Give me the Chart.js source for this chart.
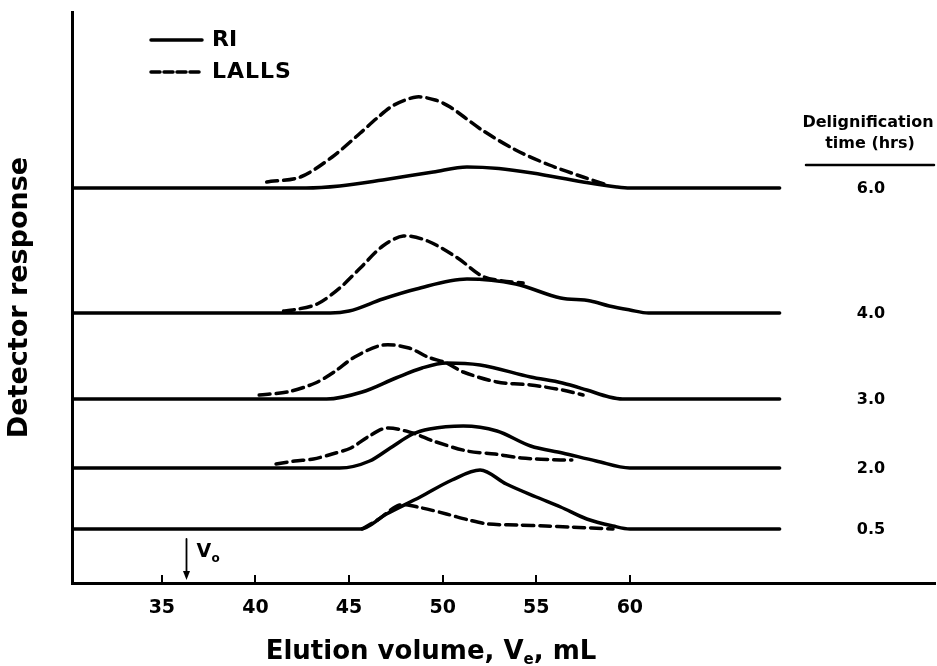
<!DOCTYPE html>
<html>
<head>
<meta charset="utf-8">
<script src="https://cdn.jsdelivr.net/npm/chart.js@4"></script>
<style>
  html, body { margin: 0; padding: 0; background: #fff; }
</style>
</head>
<body>
<canvas id="chart" width="937" height="666"></canvas>
<script>
// elution volume (mL) and height above each trace's own baseline
const times = ['6.0', '4.0', '3.0', '2.0', '0.5'];
const baseLevel = [395, 270, 184, 115, 54];
const tickValues = [35, 40, 45, 50, 55, 60];
const vo = 36.3;

const ri60 = [[30.2,0],[42.7,0],[44.5,2],[46.8,8],[49.5,16],[51.3,21],[53,19.5],[54.8,15],[57.5,6],[59.3,1],[60,0],[68,0]];
const lalls60 = [[40.6,6],[42.4,11],[44.1,31],[45.6,55],[46.5,70],[47.4,83],[48.6,91],[49.6,88],[50.4,81],[52.1,58],[53.9,38],[55.7,23],[57.5,11],[58.8,3]];

const ri40 = [[30.2,0],[44,0],[45,2],[46.8,14],[48.6,24],[51.3,34],[53.9,29],[56.3,15],[57.9,12],[58.9,7],[60,3],[61,0],[68,0]];
const lalls40 = [[41.5,2],[42,3],[43.3,9],[44.5,25],[45.6,45],[46.8,67],[47.9,77],[49.2,72],[50.8,55],[52.1,37],[53.2,32],[54.3,30]];

const ri30 = [[30.2,0],[43.8,0],[45.7,7],[47.5,21],[48.9,31],[50.2,36],[52,34],[54.7,22],[56.4,16],[57.7,9],[58.9,2],[59.6,0],[68,0]];
const lalls30 = [[40.2,4],[41.7,7],[43.2,16],[44.2,27],[45.3,42],[46.8,54],[48.2,51],[49.2,42],[50.2,36],[51.1,27],[52.9,17],[54.7,14],[56.4,9],[57.5,4]];

const ri20 = [[30.2,0],[44.5,0],[46.1,7],[47.2,20],[48.4,34],[49.3,39],[51.1,42],[52.9,37],[54.7,22],[56.4,15],[58.2,7],[60,0],[68,0]];
const lalls20 = [[41.1,4],[42.1,7],[43.1,9],[44.1,14],[45.1,20],[46,31],[47,40],[48.4,35],[49.5,27],[51.3,17],[52.8,14],[54.2,10],[56.3,8],[56.9,8]];

const ri05 = [[30.2,0],[45.6,0],[47,15],[48.8,32],[50.5,49],[52,59],[53.4,45],[55,32],[56.3,22],[57.7,10],[59.1,3],[60,0],[68,0]];
const lalls05 = [[45.7,0],[46.6,10],[47.7,24],[48.9,21],[50.2,15],[51.4,9],[52.4,5],[54,4],[55.5,3],[56.8,2],[59.1,0]];

const riSets = [ri60, ri40, ri30, ri20, ri05];
const lallsSets = [lalls60, lalls40, lalls30, lalls20, lalls05];

const FONT = 'DejaVu Sans';

function toPoints(pairs, base) {
  return pairs.map(p => ({ x: p[0], y: base + p[1] }));
}

const datasets = [];
times.forEach((t, i) => {
  datasets.push({
    label: 'LALLS ' + t,
    data: toPoints(lallsSets[i], baseLevel[i]),
    borderColor: '#000',
    borderWidth: 3.5,
    borderDash: [11, 6],
    borderCapStyle: 'round',
    pointRadius: 0,
    tension: 0.3,
    fill: false
  });
  datasets.push({
    label: 'RI ' + t,
    data: toPoints(riSets[i], baseLevel[i]),
    borderColor: '#000',
    borderWidth: 3.5,
    borderCapStyle: 'round',
    borderJoinStyle: 'round',
    pointRadius: 0,
    cubicInterpolationMode: 'monotone',
    fill: false
  });
});

const annot = {
  id: 'annot',
  afterDraw(chart) {
    const { ctx, scales: { x, y } } = chart;
    ctx.save();
    ctx.fillStyle = '#000';
    ctx.strokeStyle = '#000';
    ctx.lineCap = 'round';

    // legend
    ctx.lineWidth = 3.5;
    ctx.beginPath(); ctx.moveTo(151, 40); ctx.lineTo(202, 40); ctx.stroke();
    ctx.setLineDash([9, 4]);
    ctx.beginPath(); ctx.moveTo(151, 72); ctx.lineTo(202, 72); ctx.stroke();
    ctx.setLineDash([]);
    ctx.font = 'bold 22px ' + FONT;
    ctx.textBaseline = 'middle';
    ctx.textAlign = 'left';
    ctx.fillText('RI', 212, 40);
    ctx.letterSpacing = '1px';
    ctx.fillText('LALLS', 212, 72);
    ctx.letterSpacing = '0px';

    // right hand labels
    ctx.textAlign = 'center';
    ctx.font = 'bold 16px ' + FONT;
    ctx.fillText('Delignification', 868, 123);
    ctx.fillText('time (hrs)', 870, 144);
    ctx.lineWidth = 2.5;
    ctx.beginPath(); ctx.moveTo(806, 165); ctx.lineTo(934, 165); ctx.stroke();
    times.forEach((t, i) => {
      ctx.fillText(t, 871, y.getPixelForValue(baseLevel[i]) + 1);
    });

    // V0 arrow
    const px = Math.round(x.getPixelForValue(vo)) + 0.5;
    const bottom = y.getPixelForValue(0);
    ctx.lineWidth = 1.8;
    ctx.beginPath(); ctx.moveTo(px, bottom - 44); ctx.lineTo(px, bottom - 8); ctx.stroke();
    ctx.beginPath();
    ctx.moveTo(px - 3.5, bottom - 12);
    ctx.lineTo(px + 3.5, bottom - 12);
    ctx.lineTo(px, bottom - 3);
    ctx.closePath(); ctx.fill();
    ctx.textAlign = 'left';
    ctx.textBaseline = 'alphabetic';
    ctx.font = 'bold 19px ' + FONT;
    ctx.fillText('V', px + 10, bottom - 26);
    ctx.font = 'bold 12px ' + FONT;
    ctx.fillText('o', px + 25, bottom - 21);

    // x title with subscript
    const a = 'Elution volume, V';
    const c = ', mL';
    ctx.font = 'bold 26px ' + FONT;
    const wa = ctx.measureText(a).width;
    const wc = ctx.measureText(c).width;
    ctx.font = 'bold 15px ' + FONT;
    const wb = ctx.measureText('e').width;
    let tx = 431 - (wa + wb + wc) / 2;
    ctx.font = 'bold 26px ' + FONT;
    ctx.fillText(a, tx, 659);
    tx += wa;
    ctx.font = 'bold 15px ' + FONT;
    ctx.fillText('e', tx, 664);
    tx += wb;
    ctx.font = 'bold 26px ' + FONT;
    ctx.fillText(c, tx, 659);
    ctx.restore();
  }
};

new Chart(document.getElementById('chart').getContext('2d'), {
  type: 'line',
  data: { datasets: datasets },
  options: {
    responsive: false,
    animation: false,
    layout: { padding: { top: 12, right: 2, left: 0, bottom: 0 } },
    plugins: { legend: { display: false }, tooltip: { enabled: false } },
    scales: {
      x: {
        type: 'linear',
        min: 30.2,
        max: 76.3,
        afterBuildTicks: (scale) => { scale.ticks = tickValues.map(v => ({ value: v })); },
        afterFit: (scale) => { scale.height = 83; },
        grid: { drawOnChartArea: false, drawTicks: true, tickLength: -8, color: '#000', lineWidth: 2 },
        border: { display: true, color: '#000', width: 3 },
        ticks: {
          color: '#000',
          padding: 22,
          maxRotation: 0,
          font: { family: FONT, size: 19, weight: 'bold' }
        }
      },
      y: {
        min: 0,
        max: 571,
        afterFit: (scale) => { scale.width = 72; },
        grid: { display: false, drawTicks: false },
        border: { display: true, color: '#000', width: 3 },
        ticks: { display: false },
        title: {
          display: true,
          text: 'Detector response',
          color: '#000',
          padding: { top: 4, bottom: 0 },
          font: { family: FONT, size: 27, weight: 'bold' }
        }
      }
    }
  },
  plugins: [annot]
});
</script>
</body>
</html>
